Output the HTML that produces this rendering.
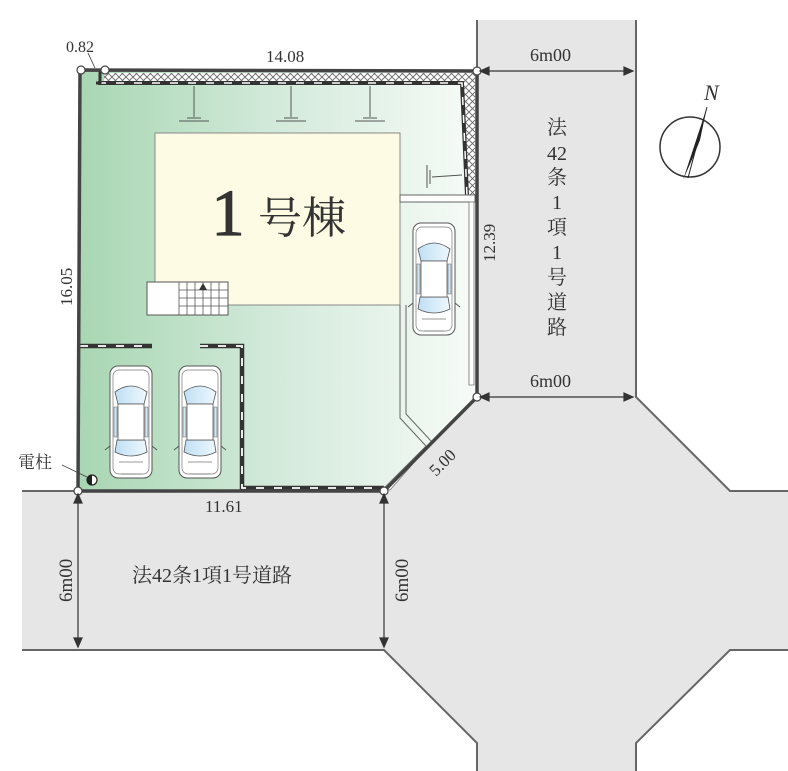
<!DOCTYPE html>
<html><head><meta charset="utf-8"><style>
html,body{margin:0;padding:0;background:#fff}
svg{display:block}
text{font-family:"Liberation Serif","Noto Serif CJK SC",serif;fill:#333}
</style></head><body>
<svg width="788" height="771" viewBox="0 0 788 771" xmlns="http://www.w3.org/2000/svg">
<defs>
<linearGradient id="g" x1="0" x2="1" y1="0" y2="0">
<stop offset="0" stop-color="#a8d6b2"/><stop offset="0.5" stop-color="#d3eadb"/><stop offset="1" stop-color="#f7fbf7"/>
</linearGradient>
<linearGradient id="gl" x1="0" x2="1"><stop offset="0" stop-color="#bfe0f5"/><stop offset="1" stop-color="#eef7fd"/></linearGradient>
<pattern id="hx" width="7" height="7" patternUnits="userSpaceOnUse"><rect width="7" height="7" fill="#fff"/><path d="M0 0L7 7M7 0L0 7" stroke="#666" stroke-width="0.9"/></pattern>
<g id="car">
<rect x="-21" y="-56" width="42" height="112" rx="8" fill="#fff" stroke="#555" stroke-width="1"/>
<rect x="-18" y="-52" width="36" height="104" rx="6" fill="none" stroke="#777" stroke-width="0.7"/>
<path d="M-16 -30 Q0 -42 16 -30 L13 -18 L-13 -18Z" fill="url(#gl)" stroke="#555" stroke-width="0.8"/>
<path d="M-14 18 L14 18 L16 30 Q0 38 -16 30Z" fill="url(#gl)" stroke="#555" stroke-width="0.8"/>
<rect x="-13" y="-18" width="26" height="36" fill="#fff" stroke="#555" stroke-width="0.8"/>
<path d="M-17 -15 L-14 -15 L-14 15 L-17 15Z M17 -15 L14 -15 L14 15 L17 15Z" fill="#cfe7f7" stroke="#666" stroke-width="0.6"/>
<path d="M-21 24 L-26 28 M21 24 L26 28" stroke="#555"/>
<path d="M-12 40 L12 40 M-10 52 L10 52" stroke="#777" stroke-width="0.8"/>
</g>
</defs>
<path d="M477 20 L636 20 L636 397 L730 491 L788 491 L788 650 L730 650 L636 743 L636 771 L477 771 L477 743 L384 650 L22 650 L22 491 L384 491 L477 397 Z" fill="#e6e6e6"/>
<g stroke="#666" stroke-width="2" fill="none">
<path d="M477 20 L477 397 L384 491 L22 491"/>
<path d="M636 20 L636 397 L730 491 L788 491"/>
<path d="M22 650 L384 650 L477 743 L477 771"/>
<path d="M788 650 L730 650 L636 743 L636 771"/>
</g>
<path d="M80 70 L477 71 L477 397 L384 491 L78 491 Z" fill="url(#g)"/>
<path d="M104 73 L475 73 L475 196 L467 196 L462 83 L104 83Z" fill="url(#hx)"/>
<g fill="none">
<path d="M98 83 L462 83 L467 196" stroke="#333" stroke-width="4"/>
<path d="M98 83 L462 83 L467 196" stroke="#fff" stroke-width="1.5" stroke-dasharray="8 10"/>
<path d="M96 83 L100 83 L100 70" stroke="#333" stroke-width="3"/>
</g>
<g stroke="#555" stroke-width="1" fill="none">
<path d="M194 86 L194 117 M179 121 L209 121 M187 118 L201 118"/>
<path d="M291 86 L291 117 M276 121 L306 121 M284 118 L298 118"/>
<path d="M370 86 L370 117 M355 121 L385 121 M363 118 L377 118"/>
<path d="M432 177 L462 175 M427 165 L427 188 M430 170 L430 184"/>
</g>
<rect x="155" y="133" width="245" height="172" fill="#fdfbe3" stroke="#888" stroke-width="1"/>
<text x="228" y="235" font-size="66" text-anchor="middle" stroke="#333" stroke-width="1.2">1</text>
<text x="302" y="233" font-size="44" text-anchor="middle" font-family="'Noto Serif CJK SC',serif">号棟</text>
<rect x="147" y="282" width="81" height="33" fill="#fff" stroke="#555"/>
<g stroke="#555" stroke-width="0.8"><path d="M179 282V315M187 282V315M195 282V315M203 282V315M211 282V315M219 282V315M179 290H228M179 298H228M179 306H228"/></g>
<path d="M203 283 L199 290 L207 290Z" fill="#333"/>
<path d="M400 195 L475 195 L475 202 L400 202Z" fill="#fff" stroke="#666" stroke-width="1"/>
<path d="M400 305 L400 418 L426 446 M406 305 L406 414 L432 442" fill="none" stroke="#666" stroke-width="1"/>
<path d="M469 202 L469 385 L474 385 L474 202Z" fill="#fff" stroke="#777" stroke-width="0.8"/>
<path d="M426 446 L384 488 L390 490 L432 442" fill="#fff" stroke="#777" stroke-width="0.8"/>
<use href="#car" transform="translate(434,279)"/>
<g fill="none">
<path d="M80 346 L152 346 M200 346 L242 346 L242 488 L384 488" stroke="#333" stroke-width="4.5"/>
<path d="M80 346 L152 346 M200 346 L242 346 L242 488 L384 488" stroke="#fff" stroke-width="1.8" stroke-dasharray="8 10"/>
</g>
<use href="#car" transform="translate(131,422)"/>
<use href="#car" transform="translate(200,422)"/>
<path d="M80 70 L477 71 L477 397 L384 491 L78 491 Z" fill="none" stroke="#444" stroke-width="3.5"/>
<g fill="#fff" stroke="#444" stroke-width="1.2">
<circle cx="81" cy="70" r="4"/><circle cx="105" cy="70" r="4"/><circle cx="477" cy="71" r="4"/><circle cx="477" cy="397" r="4"/><circle cx="384" cy="491" r="4"/><circle cx="78" cy="491" r="4"/>
</g>
<circle cx="92" cy="480" r="5" fill="#fff" stroke="#222" stroke-width="1.2"/>
<path d="M92 475 A5 5 0 0 0 92 485Z" fill="#222"/>
<path d="M62 465 L87 477" stroke="#444" stroke-width="0.8"/>
<text x="18" y="468" font-size="17">電柱</text>
<g stroke="#333" stroke-width="1.2" fill="#333">
<path d="M480 71 L633 71 M480 397 L633 397 M78 494 L78 647 M384 494 L384 647" fill="none"/>
<path d="M480 71l9-4v8z M633 71l-9-4v8z M480 397l9-4v8z M633 397l-9-4v8z M78 494l-4 9h8z M78 647l-4-9h8z M384 494l-4 9h8z M384 647l-4-9h8z"/>
<path d="M88 53 L95 68" fill="none" stroke-width="0.8"/>
</g>
<text x="66" y="52" font-size="16">0.82</text>
<text x="266" y="62" font-size="17">14.08</text>
<text x="530" y="61" font-size="18">6m00</text>
<text x="530" y="387" font-size="18">6m00</text>
<text x="205" y="512" font-size="17">11.61</text>
<text font-size="17" transform="translate(72,306) rotate(-90)">16.05</text>
<text font-size="17" transform="translate(495,262) rotate(-90)">12.39</text>
<text font-size="17" transform="translate(436,477) rotate(-45)">5.00</text>
<text font-size="19" transform="translate(72,602) rotate(-90)">6m00</text>
<text font-size="19" transform="translate(408,602) rotate(-90)">6m00</text>
<text x="132" y="582" font-size="20">法42条1項1号道路</text>
<g font-size="20" text-anchor="middle">
<text x="557" y="134">法</text><text x="557" y="160">42</text><text x="557" y="184">条</text><text x="557" y="209">1</text><text x="557" y="234">項</text><text x="557" y="259">1</text><text x="557" y="284">号</text><text x="557" y="309">道</text><text x="557" y="334">路</text>
</g>
<circle cx="690" cy="147" r="30" fill="#fff" stroke="#333" stroke-width="1.5"/>
<path d="M707 107 L683 180 L694 155 L700 140Z" fill="#222"/>
<path d="M707 107 L688 178" stroke="#222" stroke-width="1"/>
<text x="704" y="100" font-size="22" font-style="italic" font-family="'Liberation Sans',sans-serif">N</text>
</svg>
</body></html>
